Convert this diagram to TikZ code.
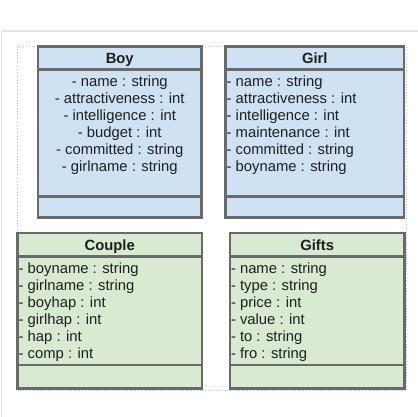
\documentclass[tikz,border=0pt]{standalone}
\usepackage{fontspec}
\setmainfont{Liberation Sans}
\usepackage{tikz}
\usetikzlibrary{positioning}
\definecolor{boxline}{HTML}{6A6A6A}
\definecolor{boyfill}{HTML}{CFE2F3}
\definecolor{couplefill}{HTML}{D9EAD3}
\definecolor{selectline}{HTML}{A9C1E6}
\definecolor{framegray}{HTML}{E4E4E4}
\definecolor{inktext}{HTML}{1E1E1E}

\begin{document}
\begin{tikzpicture}[x=1pt, y=-1pt,
  part/.style={draw=boxline, line width=2.4pt, inner sep=0pt, outer sep=0pt},
  classhead/.style={part, font=\fontsize{14.8}{17}\selectfont\bfseries, text=inktext, text height=11pt, text depth=0pt},
  attrs/.style={inner sep=0pt, font=\fontsize{14.8}{17}\selectfont, text=inktext}]
\useasboundingbox (0,0) rectangle (418,417);
\draw[framegray, line width=1.5pt] (1.5,417)--(1.5,31)--(418,31);
\draw[selectline, dotted, line width=0.8pt] (17.3,46.7) rectangle (406,390.7);
% Boy
\node[classhead, fill=boyfill, minimum width=163.5pt, minimum height=23pt, anchor=north west] (boyhead) at (38,46.5) {Boy};
\node[part, fill=boyfill, minimum width=163.5pt, minimum height=127pt, below=0pt of boyhead] (boyattr) {};
\node[part, fill=boyfill, minimum width=163.5pt, minimum height=21pt, below=0pt of boyattr] (boyops) {};
\node[attrs, align=center, below=6pt of boyattr.north] (boytext)
  {- name : string\\- attractiveness : int\\- intelligence : int\\- budget : int\\- committed : string\\- girlname : string};
% Girl
\node[classhead, fill=boyfill, minimum width=178.5pt, minimum height=23pt, anchor=north west] (girlhead) at (225.5,46.5) {Girl};
\node[part, fill=boyfill, minimum width=178.5pt, minimum height=127pt, below=0pt of girlhead] (girlattr) {};
\node[part, fill=boyfill, minimum width=178.5pt, minimum height=21pt, below=0pt of girlattr] (girlops) {};
\node[attrs, align=left, below right=6pt and 1pt of girlattr.north west] (girltext)
  {- name : string\\- attractiveness : int\\- intelligence : int\\- maintenance : int\\- committed : string\\- boyname : string};
% Couple
\node[classhead, fill=couplefill, minimum width=184.5pt, minimum height=23.5pt, anchor=north west] (couplehead) at (17.5,233) {Couple};
\node[part, fill=couplefill, minimum width=184.5pt, minimum height=108.5pt, below=0pt of couplehead] (coupleattr) {};
\node[part, fill=couplefill, minimum width=184.5pt, minimum height=23.5pt, below=0pt of coupleattr] (coupleops) {};
\node[attrs, align=left, below right=6pt and 1pt of coupleattr.north west] (coupletext)
  {- boyname : string\\- girlname : string\\- boyhap : int\\- girlhap : int\\- hap : int\\- comp : int};
% Gifts
\node[classhead, fill=couplefill, minimum width=174.7pt, minimum height=23.5pt, anchor=north west] (giftshead) at (229.8,233) {Gifts};
\node[part, fill=couplefill, minimum width=174.7pt, minimum height=108.5pt, below=0pt of giftshead] (giftsattr) {};
\node[part, fill=couplefill, minimum width=174.7pt, minimum height=23.5pt, below=0pt of giftsattr] (giftsops) {};
\node[attrs, align=left, below right=6pt and 1pt of giftsattr.north west] (giftstext)
  {- name : string\\- type : string\\- price : int\\- value : int\\- to : string\\- fro : string};
\end{tikzpicture}
\end{document}
